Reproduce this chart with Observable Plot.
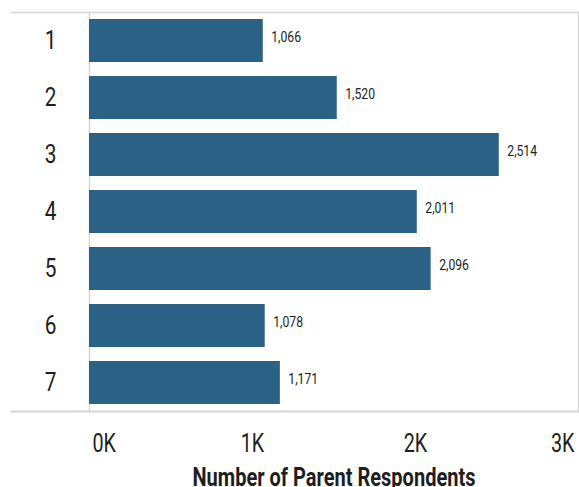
<!DOCTYPE html>
<html>
<head>
<meta charset="utf-8">
<script src="https://cdn.jsdelivr.net/npm/d3@7"></script>
<script src="https://cdn.jsdelivr.net/npm/@observablehq/plot@0.6"></script>
<style>
  html, body { margin: 0; padding: 0; background: #fff; }
</style>
</head>
<body>
<div id="chart"></div>
<script>
const categories = ["1", "2", "3", "4", "5", "6", "7"];
const respondents = [1066, 1520, 2514, 2011, 2096, 1078, 1171];
const xTicks = [0, 1000, 2000, 3000];
const xTickLabels = ["0K", "1K", "2K", "3K"];
const axisTitle = "Number of Parent Respondents";

const data = categories.map((c, i) => ({group: c, value: respondents[i]}));
const tickLabel = v => xTickLabels[xTicks.indexOf(v)];
const fmt = d3.format(",");
const valueLabels = respondents.map(fmt);
const font = "Roboto, 'Noto Sans', sans-serif";
const grid = "#d6d6d6";
const ink = "#1e1e1e";

const xAxisCommon = {tickSize: 0, tickPadding: 22, fontSize: 26, label: null, tickFormat: tickLabel, color: ink};

const chart = Plot.plot({
  width: 579,
  height: 487,
  marginLeft: 89,
  marginRight: 1,
  marginTop: 12,
  marginBottom: 76,
  style: {fontFamily: font, background: "white", color: ink},
  x: {domain: [0, 3000], axis: null},
  y: {domain: categories, paddingInner: 0.25, paddingOuter: 0.125, axis: null},
  marks: [
    Plot.frame({anchor: "top", stroke: grid, strokeWidth: 1.5, insetLeft: -78}),
    Plot.frame({anchor: "bottom", stroke: grid, strokeWidth: 2, insetLeft: -78}),
    Plot.frame({anchor: "right", stroke: grid, strokeWidth: 1.5}),
    Plot.frame({anchor: "left", stroke: grid, strokeWidth: 1.5}),
    Plot.barX(data, {x: "value", y: "group", fill: "#2c6186"}),
    Plot.text(data, {x: "value", y: "group", text: d => fmt(d.value), textAnchor: "start", dx: 8, dy: -3, fontSize: 14, fill: ink}),
    Plot.axisY({tickSize: 0, tickPadding: 39, textAnchor: "middle", fontSize: 26, label: null, color: ink}),
    Plot.axisX({...xAxisCommon, ticks: [xTicks[0]], textAnchor: "start", dx: 3}),
    Plot.axisX({...xAxisCommon, ticks: [xTicks[1], xTicks[2]]}),
    Plot.axisX({...xAxisCommon, ticks: [xTicks[3]], textAnchor: "end", dx: -4}),
    Plot.text([axisTitle], {frameAnchor: "bottom", dy: 74, fontSize: 26, fontWeight: "bold", fill: ink})
  ]
});
document.getElementById("chart").append(chart);

// Condense glyphs horizontally to mimic the narrow reference typeface
function factorFor(s) {
  if (s === axisTitle) return 0.77;
  if (xTickLabels.includes(s)) return 0.76;
  if (categories.includes(s)) return 0.8;
  if (valueLabels.includes(s)) return 0.87;
  return 1;
}
chart.querySelectorAll("text").forEach(t => {
  const f = factorFor(t.textContent.trim());
  if (f === 1) return;
  const w = t.getComputedTextLength();
  if (w > 0) {
    t.setAttribute("textLength", (w * f).toFixed(2));
    t.setAttribute("lengthAdjust", "spacingAndGlyphs");
  }
});
</script>
</body>
</html>
